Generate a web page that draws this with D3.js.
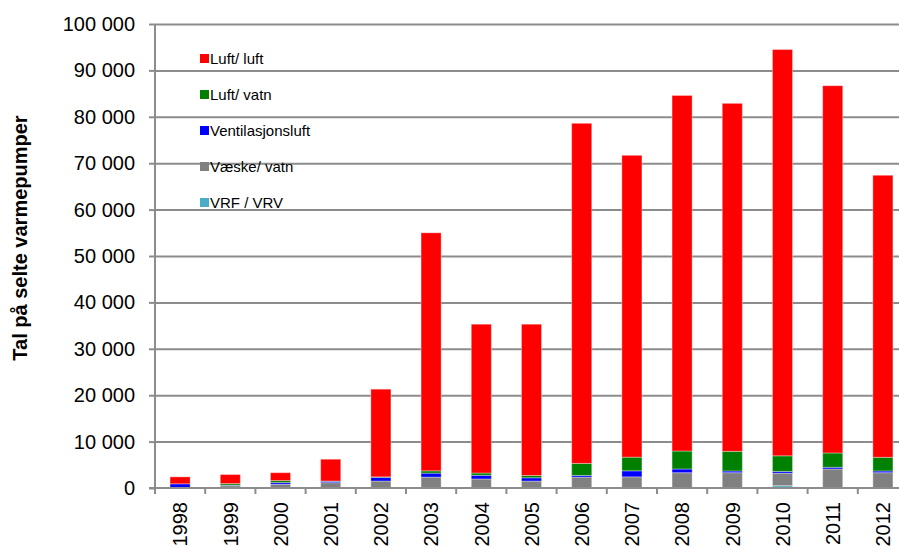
<!DOCTYPE html>
<html>
<head>
<meta charset="utf-8">
<script src="https://cdn.jsdelivr.net/npm/d3@7"></script>
<style>
  body { margin: 0; background: #fff; }
  svg { display: block; }
</style>
</head>
<body>
<script>
document.addEventListener("DOMContentLoaded", () => {
  // Data
  const years = ["1998", "1999", "2000", "2001", "2002", "2003", "2004", "2005",
    "2006", "2007", "2008", "2009", "2010", "2011", "2012"];

  const luftLuft = [1500, 1950, 1700, 4700, 18900, 51300, 32070, 32600,
    73300, 65050, 76630, 75000, 87560, 79150, 60780];
  const luftVatn = [0, 350, 430, 50, 100, 500, 500, 500,
    2600, 2950, 3870, 4230, 3370, 3080, 2950];
  const ventilasjonsluft = [800, 100, 370, 300, 800, 850, 780, 700,
    350, 1300, 800, 370, 370, 370, 370];
  const vaeskeVatn = [100, 500, 800, 1150, 1500, 2350, 1950, 1500,
    2350, 2400, 3300, 3300, 2700, 4100, 3300];
  const vrfVrv = [0, 0, 0, 0, 0, 0, 0, 0, 0, 0, 0, 0, 500, 0, 0];

  const yTicks = [0, 10000, 20000, 30000, 40000, 50000, 60000, 70000, 80000, 90000, 100000];

  // bottom to top stacking order
  const series = [
    { key: "vrf", name: "VRF / VRV", color: "#4BACC6", values: vrfVrv },
    { key: "vaeske", name: "Væske/ vatn", color: "#808080", values: vaeskeVatn },
    { key: "vent", name: "Ventilasjonsluft", color: "#0000FF", values: ventilasjonsluft },
    { key: "luftvatn", name: "Luft/ vatn", color: "#008000", values: luftVatn },
    { key: "luftluft", name: "Luft/ luft", color: "#FF0000", values: luftLuft }
  ];

  const rows = years.map((yr, i) => {
    let row = { year: yr };
    series.forEach((s) => { row[s.key] = s.values[i]; });
    return row;
  });

  var width = 899;
  var height = 548;
  var left = 155, right = 908, top = 24, bottom = 488;
  var gridColor = "#8c8c8c";
  var font = "'Liberation Sans', Arial, sans-serif";

  var svg = d3
    .select("body")
    .append("svg")
    .attr("width", width)
    .attr("height", height);

  var x = d3.scaleBand().domain(years).range([left, right])
    .paddingInner(0.6).paddingOuter(0.3);

  var y = d3.scaleLinear().domain([0, 100000]).range([bottom, top]);

  const nb = d3.formatLocale({ decimal: ",", thousands: " ", grouping: [3], currency: ["", ""] });
  const fmt = nb.format(",d");

  // gridlines
  svg.append("g")
    .attr("transform", `translate(${left},0)`)
    .call(d3.axisLeft(y).tickValues(yTicks.slice(1)).tickSize(-(width - left)).tickFormat(""))
    .call((g) => g.select(".domain").remove())
    .selectAll("line")
    .attr("stroke", gridColor)
    .attr("stroke-width", 2);

  // y axis
  var yAxis = svg.append("g")
    .attr("transform", `translate(${left},0)`)
    .call(d3.axisLeft(y).tickValues(yTicks).tickSize(6).tickSizeOuter(0).tickPadding(14).tickFormat(fmt));
  yAxis.select(".domain").remove();
  yAxis.selectAll("line").attr("stroke", gridColor).attr("stroke-width", 2);
  yAxis.selectAll("text")
    .attr("font-family", font)
    .attr("font-size", "20px")
    .attr("fill", "#000");

  svg.append("text")
    .attr("transform", "translate(27,238) rotate(-90)")
    .attr("text-anchor", "middle")
    .attr("font-family", font)
    .attr("font-weight", "bold")
    .attr("font-size", "20px")
    .text("Tal på selte varmepumper");

  // stacked bars
  const stacked = d3.stack().keys(series.map((s) => s.key))(rows);

  svg.selectAll(".layer")
    .data(stacked)
    .enter()
    .append("g")
    .attr("class", "layer")
    .attr("fill", (d, i) => series[i].color)
    .selectAll("rect")
    .data((d) => d.filter((p) => p[1] - p[0] > 0))
    .enter()
    .append("rect")
    .attr("x", (d) => x(d.data.year))
    .attr("width", x.bandwidth())
    .attr("y", (d) => y(d[1]))
    .attr("height", (d) => y(d[0]) - y(d[1]))
    .attr("stroke", "#ffffff")
    .attr("stroke-opacity", 0.35)
    .attr("stroke-width", 1);

  // x axis line + ticks at category boundaries
  svg.append("line")
    .attr("x1", left - 6).attr("x2", width)
    .attr("y1", bottom).attr("y2", bottom)
    .attr("stroke", gridColor).attr("stroke-width", 2);

  svg.append("line")
    .attr("x1", left).attr("x2", left)
    .attr("y1", top).attr("y2", bottom + 6)
    .attr("stroke", gridColor).attr("stroke-width", 2);

  svg.selectAll(".xtick")
    .data(years.slice(1))
    .enter()
    .append("line")
    .attr("class", "xtick")
    .attr("x1", (d) => x(d) - x.step() * x.paddingInner() / 2)
    .attr("x2", (d) => x(d) - x.step() * x.paddingInner() / 2)
    .attr("y1", bottom)
    .attr("y2", bottom + 6)
    .attr("stroke", gridColor)
    .attr("stroke-width", 2);

  svg.selectAll(".xlabel")
    .data(years)
    .enter()
    .append("text")
    .attr("class", "xlabel")
    .attr("transform", (d) => `translate(${x(d) + x.bandwidth() / 2},502) rotate(-90)`)
    .attr("dy", "0.36em")
    .attr("text-anchor", "end")
    .attr("font-family", font)
    .attr("font-size", "20px")
    .text((d) => d);

  // Legend
  const legendItems = series.slice().reverse();

  svg.selectAll(".legend-box")
    .data(legendItems)
    .enter()
    .append("rect")
    .attr("x", 200)
    .attr("y", (d, i) => 54 + i * 36)
    .attr("width", 9)
    .attr("height", 9)
    .attr("fill", (d) => d.color);

  svg.selectAll(".legend-label")
    .data(legendItems)
    .enter()
    .append("text")
    .attr("x", 210)
    .attr("y", (d, i) => 58.5 + i * 36)
    .attr("dy", "0.35em")
    .attr("font-family", font)
    .attr("font-size", "15px")
    .text((d) => d.name);
});
</script>
</body>
</html>
